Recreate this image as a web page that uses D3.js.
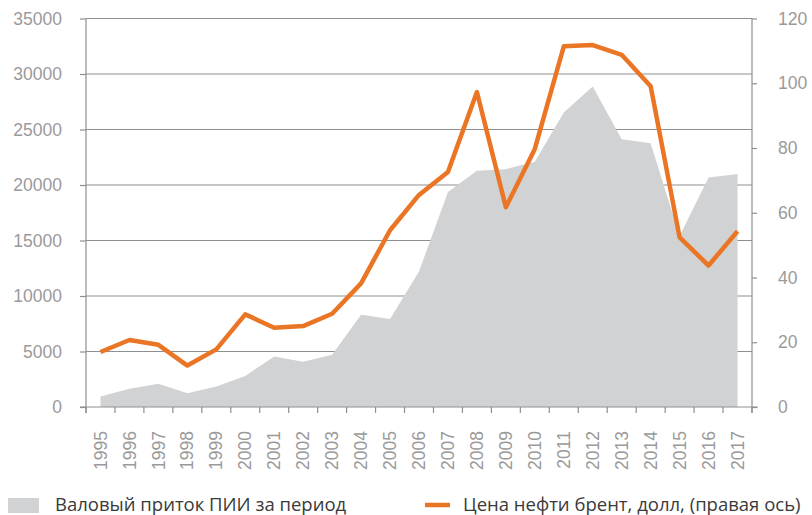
<!DOCTYPE html>
<html>
<head>
<meta charset="utf-8">
<script src="https://cdn.jsdelivr.net/npm/d3@7"></script>
<style>
  body { margin: 0; background: #fff; }
  svg { font-family: "Open Sans", sans-serif; }
</style>
</head>
<body>
<svg id="chart" width="812" height="515"></svg>
<script>
// years on the x axis
var years = ["1995", "1996", "1997", "1998", "1999", "2000", "2001", "2002", "2003", "2004", "2005", "2006",
    "2007", "2008", "2009", "2010", "2011", "2012", "2013", "2014", "2015", "2016", "2017"];

// gross FDI inflow (left axis)
var fdi = [950, 1650, 2100, 1250, 1850, 2800, 4550, 4070, 4700, 8320, 7930, 12200,
    19380, 21280, 21430, 22100, 26530, 28880, 24120, 23760, 15400, 20670, 20980];

// brent price, usd (right axis)
var brent = [17.0, 20.7, 19.2, 12.8, 17.8, 28.6, 24.5, 25.0, 28.8, 38.2, 54.6, 65.5,
    72.6, 97.3, 61.7, 79.7, 111.4, 111.8, 108.8, 99.1, 52.4, 43.7, 54.3];

var leftTicks = [0, 5000, 10000, 15000, 20000, 25000, 30000, 35000];
var rightTicks = [0, 20, 40, 60, 80, 100, 120];

var legendLabels = ["Валовый приток ПИИ за период", "Цена нефти брент, долл, (правая ось)"];

var plotLeft = 86, plotRight = 752, plotTop = 18.5, plotBottom = 407;
var gridColor = "#8f8f8f", labelColor = "#9a9a9a";
var orange = "#ea7525", grey = "#d1d2d4";

var svg = d3.select("#chart");

var x = d3.scaleBand()
    .domain(years)
    .range([plotLeft, plotRight]);

var yLeft = d3.scaleLinear()
    .domain([0, 35000])
    .range([plotBottom, plotTop]);

var yRight = d3.scaleLinear()
    .domain([0, 120])
    .range([plotBottom, plotTop]);

function cx(d, i) {
    return x(years[i]) + x.bandwidth() / 2;
}

// gridlines
svg.append("g")
    .selectAll("line")
    .data(leftTicks.slice(1))
    .enter().append("line")
    .attr("x1", plotLeft)
    .attr("x2", plotRight)
    .attr("y1", function (d) { return yLeft(d); })
    .attr("y2", function (d) { return yLeft(d); })
    .attr("stroke", gridColor)
    .attr("stroke-width", 1.2);

// FDI area
var area = d3.area()
    .x(cx)
    .y0(yLeft(0))
    .y1(function (d) { return yLeft(d); });

svg.append("path")
    .datum(fdi)
    .attr("d", area)
    .attr("fill", grey);

// brent line
var line = d3.line()
    .x(cx)
    .y(function (d) { return yRight(d); });

svg.append("path")
    .datum(brent)
    .attr("d", line)
    .attr("fill", "none")
    .attr("stroke", orange)
    .attr("stroke-width", 4.5)
    .attr("stroke-linejoin", "round");

// axes
var axLeft = svg.append("g")
    .attr("transform", "translate(" + plotLeft + ",0)")
    .call(d3.axisLeft(yLeft).tickValues(leftTicks).tickSize(6).tickPadding(18).tickFormat(d3.format("d")));

var axRight = svg.append("g")
    .attr("transform", "translate(" + plotRight + ",0)")
    .call(d3.axisRight(yRight).tickValues(rightTicks).tickSize(5).tickPadding(21));

var axBottom = svg.append("g")
    .attr("transform", "translate(0," + plotBottom + ")")
    .call(d3.axisBottom(x).tickSize(0).tickPadding(0));

// tick marks at band boundaries
svg.append("g")
    .selectAll("line")
    .data(d3.range(years.length + 1))
    .enter().append("line")
    .attr("x1", function (i) { return plotLeft + i * x.step(); })
    .attr("x2", function (i) { return plotLeft + i * x.step(); })
    .attr("y1", plotBottom)
    .attr("y2", plotBottom + 6)
    .attr("stroke", gridColor)
    .attr("stroke-width", 1.2);

[axLeft, axRight, axBottom].forEach(function (ax) {
    ax.select(".domain").attr("stroke", gridColor).attr("stroke-width", 1.2);
    ax.selectAll(".tick line").attr("stroke", gridColor).attr("stroke-width", 1.2);
    ax.selectAll("text")
        .attr("fill", labelColor)
        .style("font-size", "17.5px");
});

axLeft.select(".domain").attr("d", "M0," + (plotBottom + 6) + "V" + plotTop);
axRight.select(".domain").attr("d", "M0," + (plotBottom + 6) + "V" + plotTop);
axBottom.select(".domain").attr("d", "M" + (plotLeft - 6) + ",0H" + (plotRight + 6));

axBottom.selectAll(".tick text")
    .attr("transform", "rotate(-90)")
    .attr("x", -24)
    .attr("y", 0)
    .attr("dy", "0.35em")
    .style("text-anchor", "end");

// legend
var legend = svg.append("g");

legend.append("rect")
    .attr("x", 8)
    .attr("y", 498)
    .attr("width", 31)
    .attr("height", 15)
    .attr("fill", grey);

legend.append("text")
    .attr("x", 55)
    .attr("y", 511)
    .attr("fill", "#3a3a3a")
    .style("font-size", "18.5px")
    .text(legendLabels[0]);

legend.append("line")
    .attr("x1", 425)
    .attr("x2", 450)
    .attr("y1", 505)
    .attr("y2", 505)
    .attr("stroke", orange)
    .attr("stroke-width", 4.5);

legend.append("text")
    .attr("x", 463)
    .attr("y", 511)
    .attr("fill", "#3a3a3a")
    .style("font-size", "18.5px")
    .text(legendLabels[1]);
</script>
</body>
</html>
